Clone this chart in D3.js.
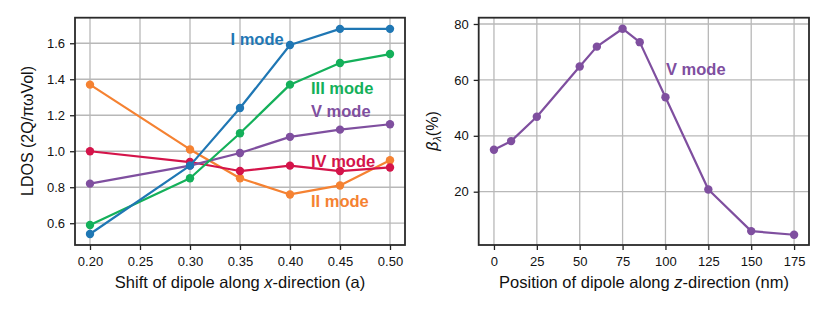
<!DOCTYPE html>
<html>
<head>
<meta charset="utf-8">
<script src="https://cdn.jsdelivr.net/npm/d3@7"></script>
<style>
  body { margin: 0; background: #fff; }
  svg text { font-family: "Liberation Sans", Arial, sans-serif; }
</style>
</head>
<body>
<svg id="chart" width="831" height="315"></svg>
<script>
// left panel: LDOS vs x-shift
let shiftX = [0.20, 0.30, 0.35, 0.40, 0.45, 0.50];
let modeI   = [0.54, 0.92, 1.24, 1.59, 1.68, 1.68];
let modeII  = [1.37, 1.01, 0.85, 0.76, 0.81, 0.95];
let modeIII = [0.59, 0.85, 1.10, 1.37, 1.49, 1.54];
let modeIV  = [1.00, 0.94, 0.89, 0.92, 0.89, 0.91];
let modeV   = [0.82, 0.92, 0.99, 1.08, 1.12, 1.15];
let leftXTicks = [0.20, 0.25, 0.30, 0.35, 0.40, 0.45, 0.50];
let leftYTicks = [0.6, 0.8, 1.0, 1.2, 1.4, 1.6];

// right panel: beta vs z-position
let posZ = [0, 10, 25, 50, 60, 75, 85, 100, 125, 150, 175];
let beta = [35.0, 38.1, 46.8, 64.8, 71.9, 78.3, 73.5, 53.8, 20.8, 5.9, 4.6];
let rightXTicks = [0, 25, 50, 75, 100, 125, 150, 175];
let rightYTicks = [20, 40, 60, 80];

let colors = {
  I: '#1f77b4', II: '#f58232', III: '#14b05a', IV: '#d4144a', V: '#7f4f9f'
};

let svg = d3.select('#chart');

function panel(box, xDom, yDom, xTicks, yTicks, xFmt, yFmt) {
  let x = d3.scaleLinear().domain(xDom).range([box.l, box.r]);
  let y = d3.scaleLinear().domain(yDom).range([box.b, box.t]);
  let g = svg.append('g');

  // grid
  g.selectAll('line.vg').data(xTicks).enter().append('line')
    .attr('x1', d => x(d)).attr('x2', d => x(d))
    .attr('y1', box.t).attr('y2', box.b)
    .style('stroke', '#b8b8b8').style('stroke-width', '1.3px');
  g.selectAll('line.hg').data(yTicks).enter().append('line')
    .attr('y1', d => y(d)).attr('y2', d => y(d))
    .attr('x1', box.l).attr('x2', box.r)
    .style('stroke', '#b8b8b8').style('stroke-width', '1.3px');

  let xAx = g.append('g').attr('transform', `translate(0,${box.b})`)
    .call(d3.axisBottom(x).tickValues(xTicks).tickFormat(xFmt).tickSize(5).tickPadding(7));
  let yAx = g.append('g').attr('transform', `translate(${box.l},0)`)
    .call(d3.axisLeft(y).tickValues(yTicks).tickFormat(yFmt).tickSize(5).tickPadding(5));
  [xAx, yAx].forEach(a => {
    a.select('.domain').remove();
    a.selectAll('text').style('font-size', '13px').style('fill', '#111');
    a.selectAll('line').style('stroke', '#222').style('stroke-width', '1.3px');
  });

  // frame
  g.append('rect')
    .attr('x', box.l).attr('y', box.t)
    .attr('width', box.r - box.l).attr('height', box.b - box.t)
    .style('fill', 'none').style('stroke', '#2a2a2a').style('stroke-width', '1.8px');

  return {x, y, g};
}

function series(p, xs, ys, color) {
  let pts = xs.map((d, i) => [d, ys[i]]);
  p.g.append('path')
    .datum(pts)
    .attr('d', d3.line().x(d => p.x(d[0])).y(d => p.y(d[1])))
    .style('fill', 'none').style('stroke', color)
    .style('stroke-width', '2.2px').style('stroke-linejoin', 'round');
  p.g.selectAll(null).data(pts).enter().append('circle')
    .attr('cx', d => p.x(d[0])).attr('cy', d => p.y(d[1]))
    .attr('r', 4.2).style('fill', color);
}

function label(p, txt, xv, yv, color) {
  p.g.append('text')
    .attr('x', p.x(xv)).attr('y', p.y(yv))
    .text(txt)
    .style('font-size', '16.5px').style('font-weight', 'bold')
    .style('fill', color);
}

// ---- left
let L = panel({l: 75, r: 405, t: 17.7, b: 245}, [0.185, 0.515], [0.479, 1.742],
  leftXTicks, leftYTicks, d3.format('.2f'), d3.format('.1f'));

series(L, shiftX, modeII, colors.II);
series(L, shiftX, modeIV, colors.IV);
series(L, shiftX, modeV, colors.V);
series(L, shiftX, modeIII, colors.III);
series(L, shiftX, modeI, colors.I);

label(L, 'I mode', 0.3405, 1.59, colors.I);
label(L, 'III mode', 0.421, 1.318, colors.III);
label(L, 'V mode', 0.421, 1.19, colors.V);
label(L, 'IV mode', 0.421, 0.91, colors.IV);
label(L, 'II mode', 0.421, 0.69, colors.II);

svg.append('text')
  .attr('transform', 'translate(33,131) rotate(-90)')
  .attr('text-anchor', 'middle')
  .style('font-size', '16px').style('fill', '#111')
  .text('LDOS (2Q/πωVol)');

svg.append('text')
  .attr('x', 240).attr('y', 288)
  .attr('text-anchor', 'middle')
  .style('font-size', '16.5px').style('fill', '#111')
  .html('Shift of dipole along <tspan font-style="italic">x</tspan>-direction (a)');

// ---- right
let R = panel({l: 478.7, r: 809, t: 17.7, b: 245}, [-8.9, 183.7], [0.93, 82.25],
  rightXTicks, rightYTicks, d3.format('d'), d3.format('d'));

series(R, posZ, beta, colors.V);
label(R, 'V mode', 100.3, 61.6, colors.V);

svg.append('text')
  .attr('transform', 'translate(438,131) rotate(-90)')
  .attr('text-anchor', 'middle')
  .style('font-size', '16px').style('fill', '#111')
  .html('<tspan font-style="italic">β</tspan><tspan font-style="italic" font-size="11px" dy="3">λ</tspan><tspan dy="-3">(%)</tspan>');

svg.append('text')
  .attr('x', 644).attr('y', 288)
  .attr('text-anchor', 'middle')
  .style('font-size', '16.5px').style('fill', '#111')
  .html('Position of dipole along <tspan font-style="italic">z</tspan>-direction (nm)');
</script>
</body>
</html>
